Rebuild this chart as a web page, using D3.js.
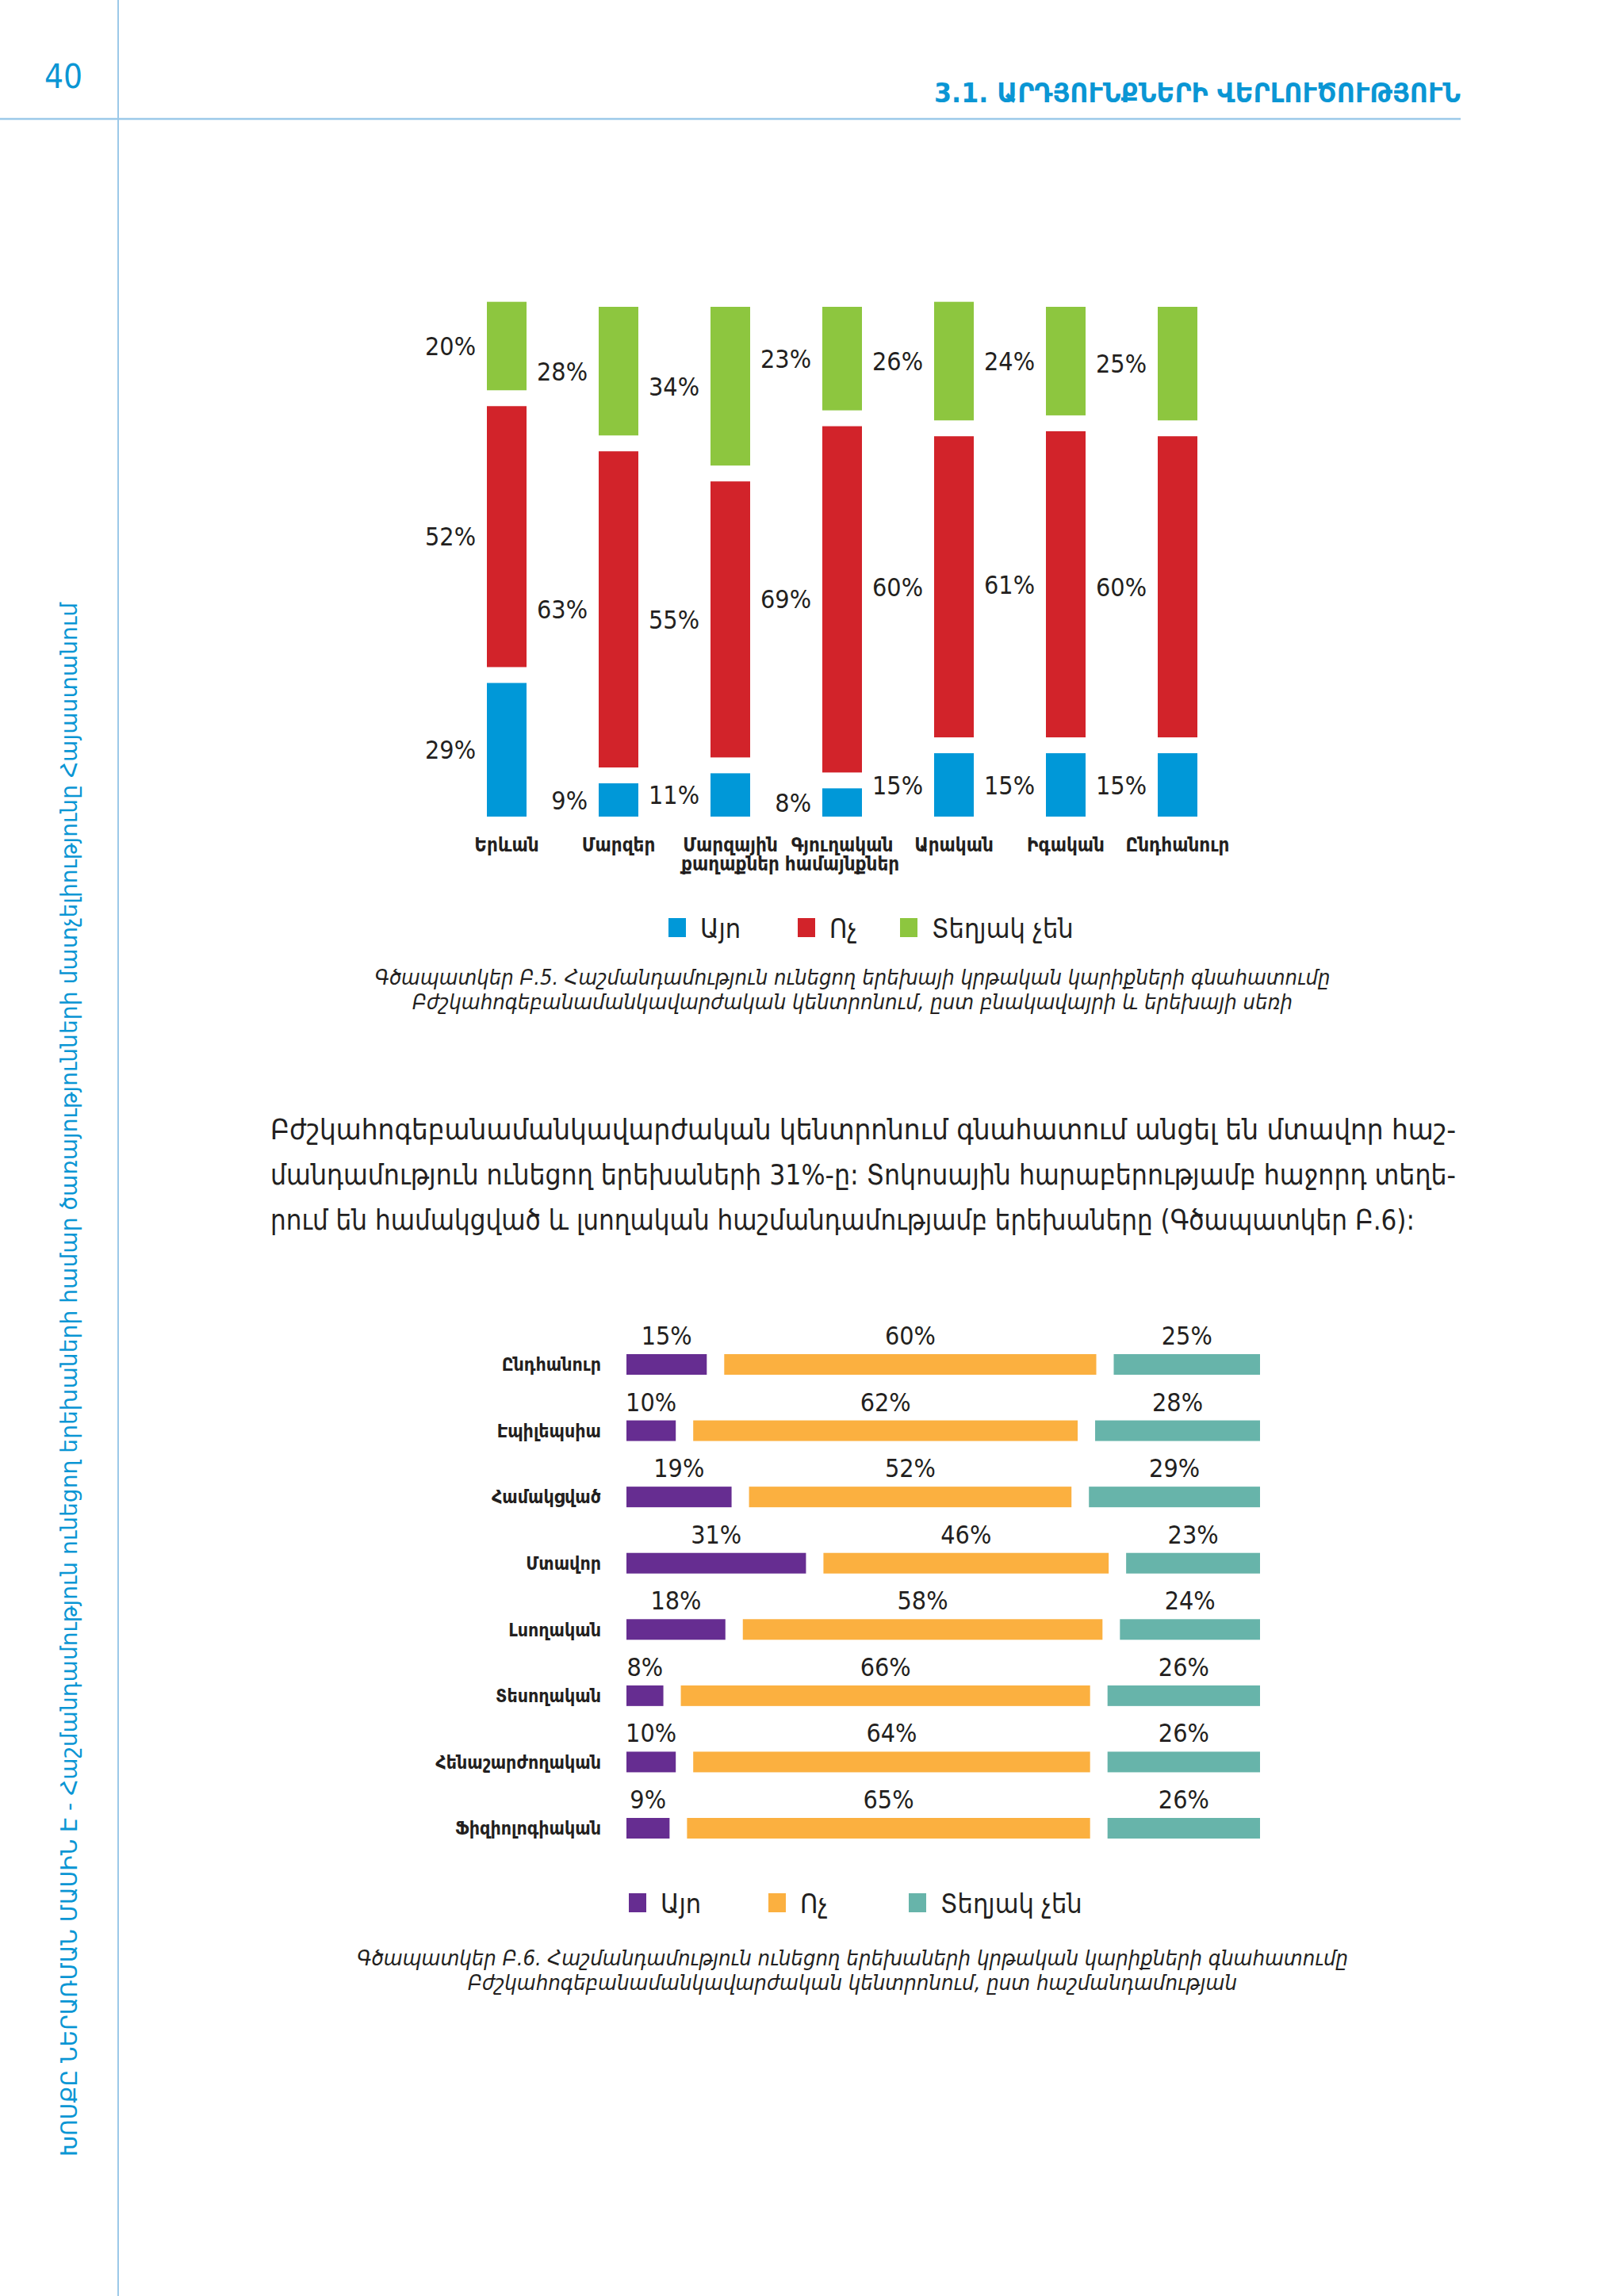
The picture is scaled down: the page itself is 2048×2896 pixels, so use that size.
<!DOCTYPE html>
<html>
<head>
<meta charset="utf-8">
<script src="https://cdn.jsdelivr.net/npm/d3@7"></script>
<style>
  body { margin: 0; background: #fff; }
  svg { display: block; }
</style>
</head>
<body>
<svg id="page"></svg>
<script>
// chart B.5 - by place of living and sex
var regions = [["Երևան"], ["Մարզեր"], ["Մարզային", "քաղաքներ"], ["Գյուղական", "համայնքներ"], ["Արական"], ["Իգական"], ["Ընդհանուր"]];
var yes1 = [29, 9, 11, 8, 15, 15, 15];
var no1 = [52, 63, 55, 69, 60, 61, 60];
var dk1 = [20, 28, 34, 23, 26, 24, 25];

// chart B.6 - by disability
var disabilities = ["Ընդհանուր", "Էպիլեպսիա", "Համակցված", "Մտավոր", "Լսողական", "Տեսողական", "Հենաշարժողական", "Ֆիզիոլոգիական"];
var yes2 = [15, 10, 19, 31, 18, 8, 10, 9];
var no2 = [60, 62, 52, 46, 58, 66, 64, 65];
var dk2 = [25, 28, 29, 23, 24, 26, 26, 26];

var legendNames = ["Այո", "Ոչ", "Տեղյակ չեն"];
var colors1 = ["#0098d8", "#d2232a", "#8dc63f"];
var colors2 = ["#662d91", "#fbb040", "#67b4aa"];

var caption1 = ["Գծապատկեր Բ.5. Հաշմանդամություն ունեցող երեխայի կրթական կարիքների գնահատումը",
  "Բժշկահոգեբանամանկավարժական կենտրոնում, ըստ բնակավայրի և երեխայի սեռի"];
var caption2 = ["Գծապատկեր Բ.6. Հաշմանդամություն ունեցող երեխաների կրթական կարիքների գնահատումը",
  "Բժշկահոգեբանամանկավարժական կենտրոնում, ըստ հաշմանդամության"];
var paragraph = ["Բժշկահոգեբանամանկավարժական կենտրոնում գնահատում անցել են մտավոր հաշ-",
  "մանդամություն ունեցող երեխաների 31%-ը: Տոկոսային հարաբերությամբ հաջորդ տեղե-",
  "րում են համակցված և լսողական հաշմանդամությամբ երեխաները (Գծապատկեր Բ.6):"];

var W = 2048, H = 2896;
var armFont = "'DejaVu Sans Condensed', 'DejaVu Sans', sans-serif";
var numFont = "'DejaVu Sans Condensed', sans-serif";
var ink = "#231f20";
var blue = "#0a96d4";

var svg = d3.select("#page").attr("width", W).attr("height", H);
svg.append("rect").attr("width", W).attr("height", H).attr("fill", "#fff");

// page frame
svg.append("line").attr("x1", 149).attr("x2", 149).attr("y1", 0).attr("y2", H)
  .attr("stroke", "#9cc9e9").attr("stroke-width", 2);
svg.append("line").attr("x1", 0).attr("x2", 1842).attr("y1", 150).attr("y2", 150)
  .attr("stroke", "#9cc9e9").attr("stroke-width", 2.5);
svg.append("text").attr("x", 80).attr("y", 111).attr("text-anchor", "middle")
  .style("font-family", numFont).style("font-size", "42px").attr("fill", blue).text("40");
svg.append("text").attr("x", 1842).attr("y", 129).attr("text-anchor", "end")
  .style("font-family", armFont).style("font-size", "33px").style("font-weight", "bold")
  .attr("fill", blue).attr("textLength", 664).attr("lengthAdjust", "spacingAndGlyphs")
  .text("3.1. ԱՐԴՅՈՒՆՔՆԵՐԻ ՎԵՐԼՈՒԾՈՒԹՅՈՒՆ");
svg.append("text").attr("transform", "translate(97,2720) rotate(-90)")
  .style("font-family", armFont).style("font-size", "29px").attr("fill", blue)
  .attr("textLength", 1960).attr("lengthAdjust", "spacingAndGlyphs")
  .text("ԽՈՍՔԸ ՆԵՐԱՌՄԱՆ ՄԱՍԻՆ Է - Հաշմանդամություն ունեցող երեխաների համար ծառայությունների մատչելիությունը Հայաստանում");

// ---------- chart 1: vertical split bars ----------
// outer segments are inset a little, as in the original layout
var gap1 = 20, barW = 50, inset1 = 15;
var x1 = d3.scalePoint().domain(d3.range(regions.length)).range([639, 1485]);
var y1 = d3.scaleLinear().domain([0, 100]).range([1030, 397]);

var c1 = svg.append("g");
regions.forEach(function (r, i) {
  var vals = [yes1[i], no1[i], dk1[i]];
  var cursor = y1(0);
  vals.forEach(function (v, k) {
    var len = y1(0) - y1(v) - (k === 1 ? 0 : inset1);
    var bottom = cursor;
    var top = bottom - len;
    c1.append("rect")
      .attr("x", x1(i) - barW / 2).attr("y", top)
      .attr("width", barW).attr("height", len)
      .attr("fill", colors1[k]);
    c1.append("text")
      .attr("x", x1(i) - barW / 2 - 14).attr("y", (top + bottom) / 2)
      .attr("dy", "0.36em").attr("text-anchor", "end")
      .style("font-family", numFont).style("font-size", "32px").attr("fill", ink)
      .text(v + "%");
    cursor = top - gap1;
  });
  var t = c1.append("text").attr("x", x1(i)).attr("y", 1074).attr("text-anchor", "middle")
    .style("font-family", armFont).style("font-size", "24px").style("font-weight", "bold").attr("fill", ink);
  r.forEach(function (line, j) {
    t.append("tspan").attr("x", x1(i)).attr("dy", j === 0 ? 0 : 24).text(line);
  });
});

function legend(g, xs, y, cols) {
  legendNames.forEach(function (n, k) {
    g.append("rect").attr("x", xs[k]).attr("y", y - 13).attr("width", 22).attr("height", 24).attr("fill", cols[k]);
    g.append("text").attr("x", xs[k] + 40).attr("y", y).attr("dy", "0.36em")
      .style("font-family", armFont).style("font-size", "34px").attr("fill", ink).text(n);
  });
}
legend(c1, [843, 1006, 1135], 1171, colors1);

function caption(lines, y, widths) {
  lines.forEach(function (line, j) {
    svg.append("text").attr("x", 1075).attr("y", y + j * 31).attr("text-anchor", "middle")
      .style("font-family", armFont).style("font-size", "26px").style("font-style", "italic")
      .attr("fill", ink).attr("textLength", widths[j]).attr("lengthAdjust", "spacingAndGlyphs")
      .text(line);
  });
}
caption(caption1, 1242, [1205, 1110]);

// ---------- paragraph ----------
var paraW = [1495, 1495, 1443];
paragraph.forEach(function (line, j) {
  svg.append("text").attr("x", 341).attr("y", 1437 + j * 57)
    .style("font-family", armFont).style("font-size", "36px").attr("fill", ink)
    .attr("textLength", paraW[j]).attr("lengthAdjust", "spacingAndGlyphs")
    .text(line);
});

// ---------- chart 2: horizontal split bars ----------
var gap2 = 22, barH = 26, inset2 = [16, 0, 11];
var x2 = d3.scaleLinear().domain([0, 100]).range([790, 1572]);
var y2 = d3.scalePoint().domain(d3.range(disabilities.length)).range([1721, 2306]);

var c2 = svg.append("g");
disabilities.forEach(function (d, i) {
  var vals = [yes2[i], no2[i], dk2[i]];
  var cursor = x2(0);
  vals.forEach(function (v, k) {
    var len = x2(v) - x2(0) - inset2[k];
    var left = cursor;
    c2.append("rect")
      .attr("x", left).attr("y", y2(i) - barH / 2)
      .attr("width", len).attr("height", barH)
      .attr("fill", colors2[k]);
    c2.append("text")
      .attr("x", left + len / 2).attr("y", y2(i) - barH / 2 - 12)
      .attr("text-anchor", "middle")
      .style("font-family", numFont).style("font-size", "32px").attr("fill", ink)
      .text(v + "%");
    cursor = left + len + gap2;
  });
  c2.append("text").attr("x", 758).attr("y", y2(i)).attr("dy", "0.36em").attr("text-anchor", "end")
    .style("font-family", armFont).style("font-size", "23px").style("font-weight", "bold").attr("fill", ink)
    .text(d);
});
legend(c2, [793, 969, 1146], 2401, colors2);
caption(caption2, 2479, [1250, 970]);
</script>
</body>
</html>
